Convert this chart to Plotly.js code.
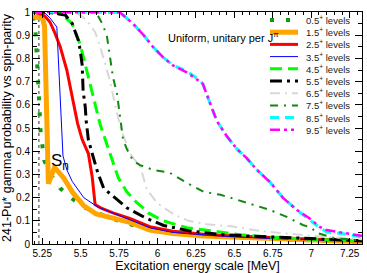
<!DOCTYPE html>
<html>
<head>
<meta charset="utf-8">
<script src="https://cdn.plot.ly/plotly-3.0.1.min.js"></script>
<style>html,body{margin:0;padding:0;background:#fff;}#plot{width:367px;height:273px;}</style>
</head>
<body>
<div id="plot"></div>
<script>
// ---- data ----
var seriesNames = ["0.5<sup>+</sup> levels","1.5<sup>+</sup> levels","2.5<sup>+</sup> levels","3.5<sup>+</sup> levels","4.5<sup>+</sup> levels","5.5<sup>+</sup> levels","6.5<sup>+</sup> levels","7.5<sup>+</sup> levels","8.5<sup>+</sup> levels","9.5<sup>+</sup> levels"];

var e05 = [5.19,5.205,5.212,5.218,5.225,5.232,5.237,5.25,5.263,5.315,5.367,5.445,5.53,5.61,5.7,5.85,6.0,6.25,6.5,6.75,7.0,7.33];
var p05 = [0.98,0.93,0.84,0.775,0.71,0.59,0.50,0.43,0.36,0.29,0.24,0.195,0.156,0.134,0.11,0.08,0.06,0.04,0.03,0.022,0.016,0.01];

var e15 = [5.19,5.25,5.265,5.272,5.277,5.283,5.29,5.33,5.39,5.45,5.52,5.6,5.7,5.82,5.95,6.1,6.3,6.5,6.75,7.0,7.33];
var p15 = [0.98,0.975,0.94,0.75,0.55,0.30,0.26,0.33,0.285,0.22,0.165,0.13,0.113,0.093,0.06,0.045,0.035,0.03,0.022,0.016,0.01];

var e25 = [5.19,5.25,5.27,5.30,5.33,5.367,5.41,5.45,5.48,5.51,5.55,5.575,5.594,5.63,5.71,5.82,5.95,6.1,6.3,6.5,6.75,7.0,7.33];
var p25 = [1.0,0.99,0.98,0.957,0.913,0.85,0.75,0.62,0.52,0.45,0.39,0.29,0.17,0.156,0.134,0.11,0.075,0.055,0.042,0.035,0.027,0.02,0.013];

var e35 = [5.19,5.26,5.30,5.345,5.385,5.41,5.445,5.52,5.61,5.71,5.82,5.95,6.1,6.4,6.7,7.0,7.33];
var p35 = [1.0,1.0,0.975,0.935,0.38,0.32,0.27,0.2,0.16,0.134,0.104,0.07,0.05,0.035,0.025,0.018,0.012];

var e45 = [5.19,5.35,5.386,5.41,5.445,5.497,5.53,5.56,5.594,5.627,5.66,5.705,5.745,5.80,5.867,5.906,5.94,6.036,6.19,6.36,6.54,6.71,7.0,7.33];
var p45 = [1.0,1.0,0.998,0.97,0.95,0.86,0.77,0.69,0.60,0.515,0.45,0.36,0.285,0.225,0.177,0.156,0.134,0.1,0.07,0.056,0.04,0.03,0.02,0.013];

var e55 = [5.19,5.3,5.367,5.40,5.445,5.484,5.497,5.51,5.516,5.53,5.536,5.55,5.575,5.61,5.65,5.72,5.80,5.92,6.04,6.21,6.43,6.58,6.8,7.0,7.33];
var p55 = [1.0,0.998,0.99,0.987,0.95,0.88,0.835,0.77,0.66,0.59,0.53,0.45,0.39,0.31,0.24,0.2,0.156,0.113,0.08,0.056,0.04,0.035,0.028,0.022,0.014];

var e65 = [5.19,5.45,5.5,5.54,5.594,5.627,5.66,5.69,5.724,5.76,5.82,5.89,5.93,6.0,6.11,6.2,6.32,6.49,6.67,6.85,7.0,7.33];
var p65 = [1.0,1.0,0.985,0.965,0.913,0.85,0.775,0.705,0.6,0.5,0.39,0.33,0.235,0.175,0.126,0.1,0.085,0.075,0.056,0.045,0.035,0.02];

var e75 = [5.19,5.55,5.575,5.61,5.64,5.67,5.69,5.71,5.737,5.756,5.776,5.80,5.84,5.886,5.97,6.08,6.19,6.30,6.41,6.52,6.62,6.73,6.84,6.945,7.0,7.036,7.15,7.33];
var p75 = [1.0,1.0,0.998,0.987,0.95,0.9,0.805,0.72,0.645,0.545,0.45,0.41,0.36,0.34,0.32,0.307,0.264,0.225,0.212,0.19,0.17,0.147,0.117,0.082,0.07,0.048,0.025,0.015];

var e85 = [5.19,5.7,5.756,5.84,5.91,5.97,6.036,6.10,6.19,6.276,6.295,6.34,6.386,6.45,6.516,6.58,6.646,6.71,6.73,6.815,6.906,6.99,7.055,7.1,7.2,7.33];
var p85 = [1.0,1.0,0.998,0.95,0.9,0.85,0.805,0.77,0.745,0.705,0.69,0.61,0.53,0.465,0.41,0.37,0.32,0.28,0.268,0.2,0.147,0.104,0.07,0.052,0.045,0.03];

var e95 = [5.19,5.7,5.756,5.84,5.91,5.97,6.036,6.10,6.19,6.276,6.295,6.34,6.386,6.45,6.516,6.58,6.646,6.71,6.73,6.815,6.906,6.99,7.055,7.1,7.2,7.33];
var p95 = [1.0,1.0,0.998,0.95,0.9,0.85,0.805,0.77,0.74,0.70,0.69,0.61,0.53,0.465,0.41,0.37,0.32,0.28,0.268,0.2,0.147,0.11,0.074,0.06,0.048,0.035];

var snEnergy = [5.228, 5.228];
var snProb = [0, 1];

var xTickVals = [5.25,5.5,5.75,6,6.25,6.5,6.75,7,7.25];
var xTickText = ["5.25","5.5","5.75","6","6.25","6.5","6.75","7","7.25"];
var yTickVals = [0,0.1,0.2,0.3,0.4,0.5,0.6,0.7,0.8,0.9,1];
var yTickText = ["0","0.1","0.2","0.3","0.4","0.5","0.6","0.7","0.8","0.9","1"];

// ---- styles ----
var xs = [e05,e15,e25,e35,e45,e55,e65,e75,e85,e95];
var ys = [p05,p15,p25,p35,p45,p55,p65,p75,p85,p95];
var colors = ["#119911","#ffa500","#ff0000","#0000ff","#00ff00","#000000","#d8d8d8","#118811","#00ffff","#ff00ff"];
var widths = [4,5,3,1,3,3,2,2,3,2.5];
var dashes = ["4px,12px","solid","solid","solid","12px,6px","12px,5px,3px,5px","10px,5px,2px,5px","8px,6px,2px,6px","9px,6px","10px,4px,3px,4px,3px,4px"];

var traces = [];
traces.push({x: snEnergy, y: snProb, mode: 'lines', line: {color: '#777', width: 1.5, dash: 'dot'}, showlegend: false, hoverinfo: 'skip'});
for (var i = 0; i < xs.length; i++) {
  traces.push({x: xs[i], y: ys[i], mode: 'lines', name: seriesNames[i],
    line: {color: colors[i], width: widths[i], dash: dashes[i]}, showlegend: false});
}

// custom compact legend
var shapes = [], annotations = [];
var L = 33, R = 362, T = 12, B = 244;
function px2x(p){ return (p - L) / (R - L); }
function py2y(p){ return (B - p) / (B - T); }
for (var k = 0; k < seriesNames.length; k++) {
  var py = 20 + k * 12.2;
  shapes.push({type: 'line', xref: 'paper', yref: 'paper', x0: px2x(270), x1: px2x(298), y0: py2y(py), y1: py2y(py),
    line: {color: colors[k], width: widths[k], dash: dashes[k]}});
  annotations.push({xref: 'paper', yref: 'paper', x: px2x(304), y: py2y(py), xanchor: 'left', yanchor: 'middle',
    text: seriesNames[k], showarrow: false, font: {family: 'Liberation Sans, Arial, sans-serif', size: 9.5, color: '#222'}});
}
annotations.push({xref: 'paper', yref: 'paper', x: px2x(166), y: py2y(37), xanchor: 'left', yanchor: 'middle',
  text: 'Uniform, unitary per J<sup>π</sup>', showarrow: false, font: {family: 'Liberation Sans, Arial, sans-serif', size: 11, color: '#000'}});
annotations.push({xref: 'x', yref: 'y', x: 5.293, y: 0.355, xanchor: 'left', yanchor: 'middle',
  text: 'S<sub>n</sub>', showarrow: false, font: {family: 'Liberation Sans, Arial, sans-serif', size: 17, color: '#000'}});

var axFont = {family: 'Liberation Sans, Arial, sans-serif', size: 10, color: '#000'};
var layout = {
  width: 367, height: 273,
  margin: {l: L, r: 367 - R, t: T, b: 273 - B},
  paper_bgcolor: '#fff', plot_bgcolor: '#fff',
  showlegend: false,
  xaxis: {range: [5.19, 7.33], tickvals: xTickVals, ticktext: xTickText, ticks: 'inside', ticklen: 6, tickcolor: '#000',
    showline: true, linecolor: '#000', linewidth: 1, mirror: 'ticks', showgrid: false, zeroline: false,
    minor: {dtick: 0.05, ticks: 'inside', ticklen: 3, tickcolor: '#000', showgrid: false},
    tickfont: axFont,
    title: {text: 'Excitation energy scale [MeV]', font: {family: 'Liberation Sans, Arial, sans-serif', size: 12.5, color: '#000'}, standoff: 3}},
  yaxis: {range: [0, 1.0], tickvals: yTickVals, ticktext: yTickText, ticks: 'inside', ticklen: 7, tickcolor: '#000',
    showline: true, linecolor: '#000', linewidth: 1, mirror: 'ticks', showgrid: false, zeroline: false,
    minor: {dtick: 0.05, ticks: 'inside', ticklen: 4, tickcolor: '#000', showgrid: false},
    tickfont: axFont,
    title: {text: '241-Pu* gamma probability vs spin-parity', font: {family: 'Liberation Sans, Arial, sans-serif', size: 12.5, color: '#000'}, standoff: 2}},
  shapes: shapes,
  annotations: annotations
};
Plotly.newPlot('plot', traces, layout, {staticPlot: true, displayModeBar: false});
</script>
</body>
</html>
